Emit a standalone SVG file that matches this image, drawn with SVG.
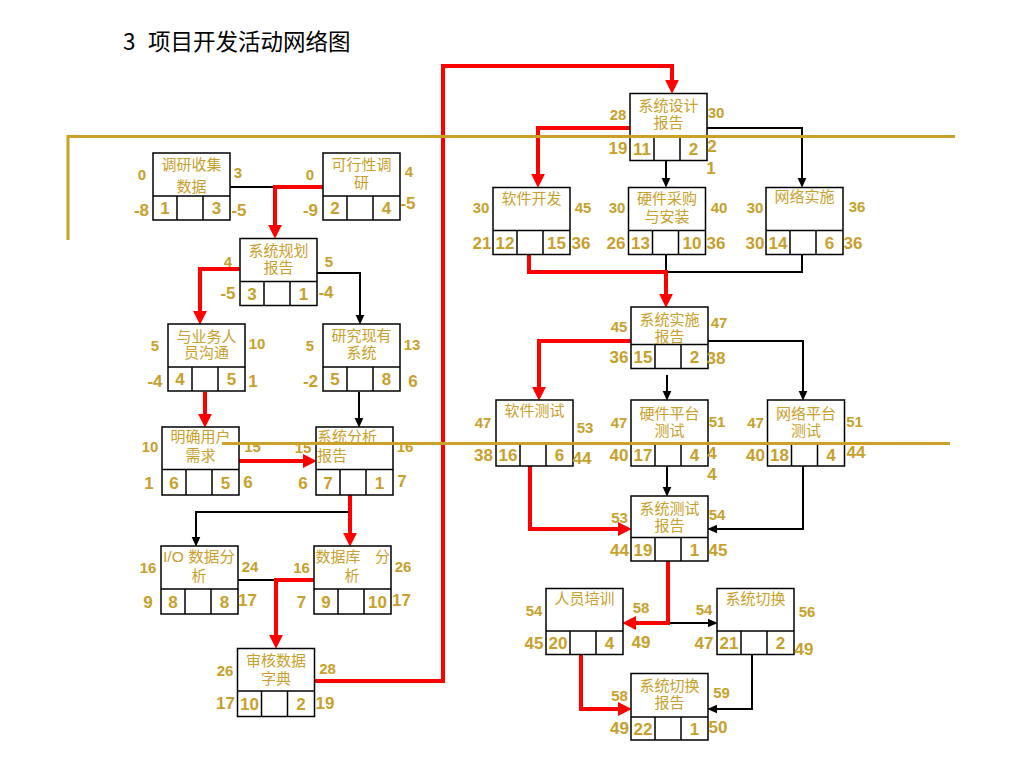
<svg xmlns="http://www.w3.org/2000/svg" width="1024" height="768" viewBox="0 0 1024 768">
<style>
.box{fill:#fff;stroke:#000;stroke-width:1.5}
.dv{fill:none;stroke:#000;stroke-width:1.5}
.nt{font-family:"Liberation Sans","Noto Sans CJK SC",sans-serif;font-size:15px;fill:#C8A02A;text-anchor:middle}
.ntl{font-family:"Liberation Sans","Noto Sans CJK SC",sans-serif;font-size:15px;fill:#C8A02A}
.cn{font-family:"Liberation Sans",Arial,sans-serif;font-weight:bold;font-size:17px;fill:#C8A02A;text-anchor:middle}
.sl{font-family:"Liberation Sans",Arial,sans-serif;font-weight:bold;font-size:15px;fill:#C8A02A;text-anchor:middle}
.red{fill:none;stroke:#FF0000;stroke-width:4}
.blk{fill:none;stroke:#000;stroke-width:2}
.gold{fill:none;stroke:#C9A227;stroke-width:3}
.title{font-family:"Noto Sans CJK SC","Liberation Sans",sans-serif;font-size:22.5px;fill:#000}
</style>
<defs>
<marker id="ar" markerUnits="userSpaceOnUse" markerWidth="14" markerHeight="14" viewBox="0 0 13 13" refX="3" refY="6.5" orient="auto"><path d="M0,0 L13,6.5 L0,13 z" fill="#FF0000"/></marker>
<marker id="ab" markerUnits="userSpaceOnUse" markerWidth="10" markerHeight="10" viewBox="0 0 9 8" refX="3" refY="4" orient="auto"><path d="M0,0 L9,4 L0,8 z" fill="#000"/></marker>
</defs>
<rect width="1024" height="768" fill="#fff"/>
<text class="title" y="50"><tspan x="123">3</tspan><tspan x="148">项目开发活动网络图</tspan></text>

<g id="connectors">
<path class="blk" d="M230,187 H275"/>
<path class="red" d="M323,187 H275 V228" marker-end="url(#ar)"/>
<path class="red" d="M240,269 H200 V314" marker-end="url(#ar)"/>
<path class="blk" d="M317,273 H360 V318" marker-end="url(#ab)"/>
<path class="red" d="M205,392 V417" marker-end="url(#ar)"/>
<path class="blk" d="M359,392 V421" marker-end="url(#ab)"/>
<path class="red" d="M239,461 H306" marker-end="url(#ar)"/>
<path class="blk" d="M350,512 H196 V540" marker-end="url(#ab)"/>
<path class="red" d="M350,495 V536" marker-end="url(#ar)"/>
<path class="blk" d="M237,580 H274"/>
<path class="red" d="M314,580 H276 V638" marker-end="url(#ar)"/>
<path class="red" d="M314,681 H443 V66 H672 V83" marker-end="url(#ar)"/>
<path class="red" d="M630,128 H538 V177" marker-end="url(#ar)"/>
<path class="blk" d="M666,160 V181" marker-end="url(#ab)"/>
<path class="blk" d="M707,128 H802 V181" marker-end="url(#ab)"/>
<path class="blk" d="M666,254 V272 M802,254 V272 H666"/>
<path class="red" d="M529,254 V272 H666 V297" marker-end="url(#ar)"/>
<path class="red" d="M631,341 H539 V390" marker-end="url(#ar)"/>
<path class="blk" d="M667,375 V394" marker-end="url(#ab)"/>
<path class="blk" d="M708,341 H803 V394" marker-end="url(#ab)"/>
<path class="red" d="M530,466 V529 H621" marker-end="url(#ar)"/>
<path class="blk" d="M667,466 V490" marker-end="url(#ab)"/>
<path class="blk" d="M803,466 V529 H714" marker-end="url(#ab)"/>
<path class="blk" d="M668,623 H711" marker-end="url(#ab)"/>
<path class="red" d="M668,561 V623 H633" marker-end="url(#ar)"/>
<path class="red" d="M581,654 V709 H621" marker-end="url(#ar)"/>
<path class="blk" d="M752,654 V709 H714" marker-end="url(#ab)"/>
</g>

<g id="n1">
<rect class="box" x="153" y="153" width="77" height="67"/>
<path class="dv" d="M153,196 H230 M177,196 V220 M203,196 V220"/>
<text class="nt" y="170"><tspan x="191.5">调研收集</tspan><tspan x="191.5" dy="22">数据</tspan></text>
<text class="cn" x="165" y="214">1</text><text class="cn" x="216.5" y="214">3</text>
<text class="sl" x="142" y="180">0</text><text class="sl" x="238" y="178">3</text>
<text class="cn" x="141.5" y="216">-8</text><text class="cn" x="239" y="216">-5</text>
</g>
<g id="n2">
<rect class="box" x="323" y="153" width="77" height="67"/>
<path class="dv" d="M323,196 H400 M347,196 V220 M373,196 V220"/>
<text class="nt" y="170"><tspan x="361.5">可行性调</tspan><tspan x="361.5" dy="18">研</tspan></text>
<text class="cn" x="335" y="214">2</text><text class="cn" x="386.5" y="214">4</text>
<text class="sl" x="310" y="180">0</text><text class="sl" x="409" y="177">4</text>
<text class="cn" x="310.5" y="216">-9</text><text class="cn" x="408" y="209">-5</text>
</g>
<g id="n3">
<rect class="box" x="240" y="238.5" width="77" height="67"/>
<path class="dv" d="M240,281.5 H317 M264,281.5 V305.5 M290,281.5 V305.5"/>
<text class="nt" y="255.5"><tspan x="278.5">系统规划</tspan><tspan x="278.5" dy="17">报告</tspan></text>
<text class="cn" x="252" y="299.5">3</text><text class="cn" x="303.5" y="299.5">1</text>
<text class="sl" x="228" y="267">4</text><text class="sl" x="329" y="267">5</text>
<text class="cn" x="228" y="299">-5</text><text class="cn" x="326" y="298">-4</text>
</g>
<g id="n4">
<rect class="box" x="168" y="324" width="77" height="67"/>
<path class="dv" d="M168,367 H245 M192,367 V391 M218,367 V391"/>
<text class="nt" y="341.5"><tspan x="206.5">与业务人</tspan><tspan x="206.5" dy="16.5">员沟通</tspan></text>
<text class="cn" x="180" y="385">4</text><text class="cn" x="231.5" y="385">5</text>
<text class="sl" x="155" y="351">5</text><text class="sl" x="257" y="349">10</text>
<text class="cn" x="155" y="387">-4</text><text class="cn" x="253" y="387">1</text>
</g>
<g id="n5">
<rect class="box" x="323" y="324" width="77" height="67"/>
<path class="dv" d="M323,367 H400 M347,367 V391 M373,367 V391"/>
<text class="nt" y="340.5"><tspan x="361.5">研究现有</tspan><tspan x="361.5" dy="17.5">系统</tspan></text>
<text class="cn" x="335" y="385">5</text><text class="cn" x="386.5" y="385">8</text>
<text class="sl" x="310" y="351">5</text><text class="sl" x="412" y="350">13</text>
<text class="cn" x="310.5" y="387">-2</text><text class="cn" x="413" y="387" font-weight="normal">6</text>
</g>
<g id="n6">
<rect class="box" x="162" y="427" width="77" height="68"/>
<path class="dv" d="M162,469.5 H239 M186,469.5 V495 M212,469.5 V495"/>
<text class="nt" y="442"><tspan x="200.5">明确用户</tspan><tspan x="200.5" dy="18.5">需求</tspan></text>
<text class="cn" x="174" y="489">6</text><text class="cn" x="225.5" y="489">5</text>
<text class="sl" x="150" y="452">10</text><text class="sl" x="252.5" y="452">15</text>
<text class="cn" x="149" y="489">1</text><text class="cn" x="248" y="488">6</text>
</g>
<g id="n7">
<rect class="box" x="316" y="427" width="77" height="68"/>
<path class="dv" d="M316,469.5 H393 M340,469.5 V495 M366,469.5 V495"/>
<text class="ntl" y="442"><tspan x="317">系统分析</tspan><tspan x="317" dy="18.5">报告</tspan></text>
<text class="cn" x="328" y="489">7</text><text class="cn" x="379.5" y="489">1</text>
<text class="sl" x="303" y="453">15</text><text class="sl" x="405" y="452">16</text>
<text class="cn" x="303" y="489">6</text><text class="cn" x="402" y="487">7</text>
</g>
<g id="n8">
<rect class="box" x="161" y="546" width="77" height="68"/>
<path class="dv" d="M161,589 H238 M185,589 V614 M211,589 V614"/>
<text class="nt" y="562"><tspan x="199" textLength="72" lengthAdjust="spacingAndGlyphs">I/O 数据分</tspan><tspan x="199" dy="18.5">析</tspan></text>
<text class="cn" x="173" y="608">8</text><text class="cn" x="224.5" y="608">8</text>
<text class="sl" x="148" y="573">16</text><text class="sl" x="250" y="572">24</text>
<text class="cn" x="148" y="608">9</text><text class="cn" x="247.5" y="606">17</text>
</g>
<g id="n9">
<rect class="box" x="314" y="546" width="77" height="68"/>
<path class="dv" d="M314,589 H391 M338,589 V614 M364,589 V614"/>
<text class="ntl" y="562"><tspan x="315.5">数据库</tspan><tspan x="375">分</tspan><tspan x="344.5" dy="18.5">析</tspan></text>
<text class="cn" x="326" y="608">9</text><text class="cn" x="377.5" y="608">10</text>
<text class="sl" x="301.5" y="573">16</text><text class="sl" x="403" y="572">26</text>
<text class="cn" x="301.5" y="608">7</text><text class="cn" x="401.5" y="606">17</text>
</g>
<g id="n10">
<rect class="box" x="237.5" y="648.5" width="77" height="68"/>
<path class="dv" d="M237.5,691 H314.5 M261.5,691 V716.5 M287.5,691 V716.5"/>
<text class="nt" y="666"><tspan x="276">审核数据</tspan><tspan x="276" dy="18">字典</tspan></text>
<text class="cn" x="249.5" y="710">10</text><text class="cn" x="301" y="710">2</text>
<text class="sl" x="225" y="676">26</text><text class="sl" x="327.5" y="674">28</text>
<text class="cn" x="225.5" y="709">17</text><text class="cn" x="325" y="709">19</text>
</g>
<g id="n11">
<rect class="box" x="630" y="93.5" width="77" height="67"/>
<path class="dv" d="M630,136.5 H707 M654,136.5 V160.5 M680,136.5 V160.5"/>
<text class="nt" y="110.5"><tspan x="668.5">系统设计</tspan><tspan x="668.5" dy="17">报告</tspan></text>
<text class="cn" x="642" y="154.5">11</text><text class="cn" x="693.5" y="154.5">2</text>
<text class="sl" x="618" y="120">28</text><text class="sl" x="716" y="118">30</text>
<text class="cn" x="618" y="154">19</text><text class="cn" x="712" y="152">2</text><text class="cn" x="711" y="174">1</text>
</g>
<g id="n12">
<rect class="box" x="493" y="187.5" width="77" height="67"/>
<path class="dv" d="M493,230.5 H570 M517,230.5 V254.5 M543,230.5 V254.5"/>
<text class="nt" x="531.5" y="204">软件开发</text>
<text class="cn" x="505" y="248.5">12</text><text class="cn" x="556.5" y="248.5">15</text>
<text class="sl" x="481" y="213">30</text><text class="sl" x="583" y="213">45</text>
<text class="cn" x="482" y="249">21</text><text class="cn" x="581" y="249">36</text>
</g>
<g id="n13">
<rect class="box" x="628.5" y="187.5" width="77" height="67"/>
<path class="dv" d="M628.5,230.5 H705.5 M652.5,230.5 V254.5 M678.5,230.5 V254.5"/>
<text class="nt" y="204"><tspan x="667">硬件采购</tspan><tspan x="667" dy="18">与安装</tspan></text>
<text class="cn" x="640.5" y="248.5">13</text><text class="cn" x="692" y="248.5">10</text>
<text class="sl" x="617" y="213">30</text><text class="sl" x="719" y="213">40</text>
<text class="cn" x="616" y="249">26</text><text class="cn" x="716" y="249">36</text>
</g>
<g id="n14">
<rect class="box" x="766" y="187.5" width="77" height="67"/>
<path class="dv" d="M766,230.5 H843 M790,230.5 V254.5 M816,230.5 V254.5"/>
<text class="nt" x="804.5" y="202">网络实施</text>
<text class="cn" x="778" y="248.5">14</text><text class="cn" x="829.5" y="248.5">6</text>
<text class="sl" x="755" y="213">30</text><text class="sl" x="857" y="212">36</text>
<text class="cn" x="755" y="249">30</text><text class="cn" x="853" y="249">36</text>
</g>
<g id="n15">
<rect class="box" x="631" y="307" width="77" height="61.5"/>
<path class="dv" d="M631,344.5 H708 M655,344.5 V368.5 M681,344.5 V368.5"/>
<text class="nt" y="325"><tspan x="669.5">系统实施</tspan><tspan x="669.5" dy="16.5">报告</tspan></text>
<text class="cn" x="643" y="362.5">15</text><text class="cn" x="694.5" y="362.5">2</text>
<text class="sl" x="619" y="332">45</text><text class="sl" x="719" y="328">47</text>
<text class="cn" x="619" y="363">36</text><text class="cn" x="716" y="364">38</text>
</g>
<g id="n16">
<rect class="box" x="496" y="400" width="77" height="66"/>
<path class="dv" d="M496,443.5 H573 M520,443.5 V466 M546,443.5 V466"/>
<text class="nt" x="534.5" y="415.5">软件测试</text>
<text class="cn" x="508" y="461">16</text><text class="cn" x="559.5" y="461">6</text>
<text class="sl" x="483" y="428">47</text><text class="sl" x="585" y="433">53</text>
<text class="cn" x="483.5" y="461">38</text><text class="cn" x="582" y="464">44</text>
</g>
<g id="n17">
<rect class="box" x="631" y="400" width="77" height="66"/>
<path class="dv" d="M631,443.5 H708 M655,443.5 V466 M681,443.5 V466"/>
<text class="nt" y="419"><tspan x="669.5">硬件平台</tspan><tspan x="669.5" dy="16.5">测试</tspan></text>
<text class="cn" x="643" y="461">17</text><text class="cn" x="694.5" y="461">4</text>
<text class="sl" x="619" y="428">47</text><text class="sl" x="717" y="427">51</text>
<text class="cn" x="619" y="461">40</text><text class="cn" y="459"><tspan x="712">4</tspan><tspan x="712" dy="21">4</tspan></text>
</g>
<g id="n18">
<rect class="box" x="767.5" y="400" width="77" height="66"/>
<path class="dv" d="M767.5,443.5 H844.5 M791.5,443.5 V466 M817.5,443.5 V466"/>
<text class="nt" y="419"><tspan x="806">网络平台</tspan><tspan x="806" dy="16.5">测试</tspan></text>
<text class="cn" x="779.5" y="461">18</text><text class="cn" x="831" y="461">4</text>
<text class="sl" x="755.5" y="428">47</text><text class="sl" x="854.5" y="427">51</text>
<text class="cn" x="755.5" y="461">40</text><text class="cn" x="856" y="458">44</text>
</g>
<g id="n19">
<rect class="box" x="631" y="496" width="77" height="65"/>
<path class="dv" d="M631,537.5 H708 M655,537.5 V561 M681,537.5 V561"/>
<text class="nt" y="514"><tspan x="669.5">系统测试</tspan><tspan x="669.5" dy="16.5">报告</tspan></text>
<text class="cn" x="643" y="555.5">19</text><text class="cn" x="694.5" y="555.5">1</text>
<text class="sl" x="619.5" y="523">53</text><text class="sl" x="717" y="520">54</text>
<text class="cn" x="619.5" y="556">44</text><text class="cn" x="718" y="556">45</text>
</g>
<g id="n20">
<rect class="box" x="546" y="588.5" width="77" height="66"/>
<path class="dv" d="M546,631 H623 M570,631 V654.5 M596,631 V654.5"/>
<text class="nt" x="584.5" y="604">人员培训</text>
<text class="cn" x="558" y="649">20</text><text class="cn" x="609.5" y="649">4</text>
<text class="sl" x="534" y="616">54</text><text class="sl" x="641" y="613">58</text>
<text class="cn" x="534" y="649">45</text><text class="cn" x="641" y="648">49</text>
</g>
<g id="n21">
<rect class="box" x="717" y="588.5" width="77" height="66"/>
<path class="dv" d="M717,631 H794 M741,631 V654.5 M767,631 V654.5"/>
<text class="nt" x="755.5" y="604">系统切换</text>
<text class="cn" x="729" y="649">21</text><text class="cn" x="780.5" y="649">2</text>
<text class="sl" x="704" y="615">54</text><text class="sl" x="807" y="617">56</text>
<text class="cn" x="704" y="649">47</text><text class="cn" x="804" y="655">49</text>
</g>
<g id="n22">
<rect class="box" x="631" y="673.5" width="77" height="66.5"/>
<path class="dv" d="M631,717 H708 M655,717 V740 M681,717 V740"/>
<text class="nt" y="690.5"><tspan x="669.5">系统切换</tspan><tspan x="669.5" dy="17.5">报告</tspan></text>
<text class="cn" x="643" y="734.5">22</text><text class="cn" x="694.5" y="734.5">1</text>
<text class="sl" x="619.5" y="701">58</text><text class="sl" x="721.5" y="698">59</text>
<text class="cn" x="619.5" y="734">49</text><text class="cn" x="718" y="733">50</text>
</g>

<g id="guides">
<path class="gold" d="M68,240 V136.5 H955"/>
<path class="gold" stroke-width="2.5" d="M222,443.5 H950"/>
</g>
</svg>
